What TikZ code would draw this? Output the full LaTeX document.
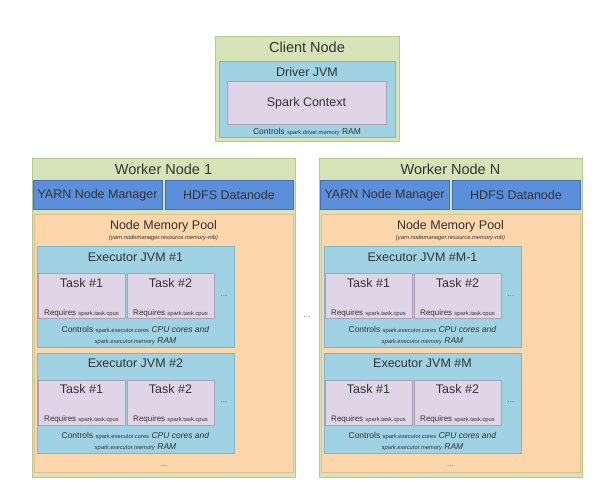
\documentclass[tikz,border=0pt]{standalone}
\usepackage{fontspec}
\setmainfont{Liberation Sans}
\definecolor{greenfill}{HTML}{D6E4B8}
\definecolor{greenline}{HTML}{B5C98C}
\definecolor{jvmfill}{HTML}{9FD2E3}
\definecolor{jvmline}{HTML}{7AB7CC}
\definecolor{taskfill}{HTML}{E0D5E6}
\definecolor{taskline}{HTML}{ADA0B8}
\definecolor{yarnfill}{HTML}{5B8FDB}
\definecolor{yarnline}{HTML}{4470B5}
\definecolor{peachfill}{HTML}{FDD6AB}
\definecolor{peachline}{HTML}{E5BB8B}
\definecolor{txt}{HTML}{333333}
\definecolor{dotc}{HTML}{666666}
\tikzset{
  box/.style={draw, line width=1pt, inner sep=0pt, outer sep=0pt, anchor=north west},
  tbig/.style={text=txt, inner sep=0pt, font=\fontsize{14.5}{16}\selectfont},
  tmid/.style={text=txt, inner sep=0pt, font=\fontsize{12.5}{14}\selectfont},
  tsmall/.style={text=txt, inner sep=0pt, font=\fontsize{8.5}{10}\selectfont},
  treq/.style={text=txt, inner sep=0pt, font=\fontsize{8}{9}\selectfont},
  dotsn/.style={text=dotc, inner sep=0pt, font=\fontsize{8}{9}\selectfont},
}
\newcommand{\tinyf}{\fontsize{5.8}{7}\selectfont}
\newcommand{\execbox}[3]{%
  \begin{scope}[yshift=-#2pt]
    \node[box, fill=jvmfill, draw=jvmline, minimum width=197pt, minimum height=100pt] (#1) at (37,247) {};
    \node[tmid] (#1-title) at (135.5,257) {#3};
    \node[box, fill=taskfill, draw=taskline, minimum width=87pt, minimum height=45pt] (#1-t1) at (38,274) {};
    \node[box, fill=taskfill, draw=taskline, minimum width=87pt, minimum height=45pt] (#1-t2) at (127,274) {};
    \node[tmid] (#1-t1name) at (81.5,283.5) {Task \#1};
    \node[tmid] (#1-t2name) at (170.5,283.5) {Task \#2};
    \node[treq] (#1-t1req) at (81.5,313) {Requires {\tinyf spark.task.cpus}};
    \node[treq] (#1-t2req) at (170.5,313) {Requires {\tinyf spark.task.cpus}};
    \node[dotsn] (#1-dots) at (224,296) {...};
    \node[tsmall] (#1-ctl1) at (135.5,330) {Controls {\tinyf spark.executor.cores} \textit{CPU cores and}};
    \node[tsmall] (#1-ctl2) at (135.5,341) {{\tinyf\itshape spark.executor.memory} \textit{RAM}};
  \end{scope}}
\newcommand{\workerbox}[5]{%
  \begin{scope}[xshift=#2pt]
    \node[box, fill=greenfill, draw=greenline, minimum width=263pt, minimum height=318pt] (#1) at (32,159) {};
    \node[tbig] (#1-title) at (163.5,169) {#3};
    \node[box, fill=yarnfill, draw=yarnline, minimum width=129pt, minimum height=29pt] (#1-yarn) at (33,181) {};
    \node[box, fill=yarnfill, draw=yarnline, minimum width=128pt, minimum height=29pt] (#1-hdfs) at (165,181) {};
    \node[tmid] (#1-yarnT) at (97.5,195.5) {YARN Node Manager};
    \node[tmid] (#1-hdfsT) at (229,195.5) {HDFS Datanode};
    \node[box, fill=peachfill, draw=peachline, minimum width=259pt, minimum height=257pt] (#1-pool) at (34,215) {};
    \node[tmid] (#1-poolT) at (163.5,226) {Node Memory Pool};
    \node[text=txt, inner sep=0pt, font=\tinyf\itshape] (#1-poolS) at (163.5,238) {(yarn.nodemanager.resource.memory-mb)};
    \execbox{#1-e1}{0}{#4}
    \execbox{#1-e2}{106}{#5}
    \node[dotsn] (#1-bdots) at (163.5,466) {...};
  \end{scope}}
\begin{document}
\begin{tikzpicture}[x=1pt,y=-1pt]
  \useasboundingbox (0,0) rectangle (597,486);
  \fill[white] (0,0) rectangle (597,486);
  % client node
  \node[box, fill=greenfill, draw=greenline, minimum width=184pt, minimum height=105pt] (client) at (215,37) {};
  \node[tbig] (clientT) at (307,47.5) {Client Node};
  \node[box, fill=jvmfill, draw=jvmline, minimum width=176pt, minimum height=76pt] (driver) at (219,62) {};
  \node[tmid] (driverT) at (307,72.5) {Driver JVM};
  \node[box, fill=taskfill, draw=taskline, minimum width=159pt, minimum height=43pt] (sc) at (227,82) {};
  \node[tmid] (scT) at (306.5,103.5) {Spark Context};
  \node[tsmall] (driverC) at (307,132) {Controls {\tinyf spark.driver.memory} RAM};
  % workers
  \workerbox{w1}{0}{Worker Node 1}{Executor JVM \#1}{Executor JVM \#2}
  \workerbox{wN}{287}{Worker Node N}{Executor JVM \#M-1}{Executor JVM \#M}
  \node[dotsn] (between) at (307,317) {...};
\end{tikzpicture}
\end{document}
